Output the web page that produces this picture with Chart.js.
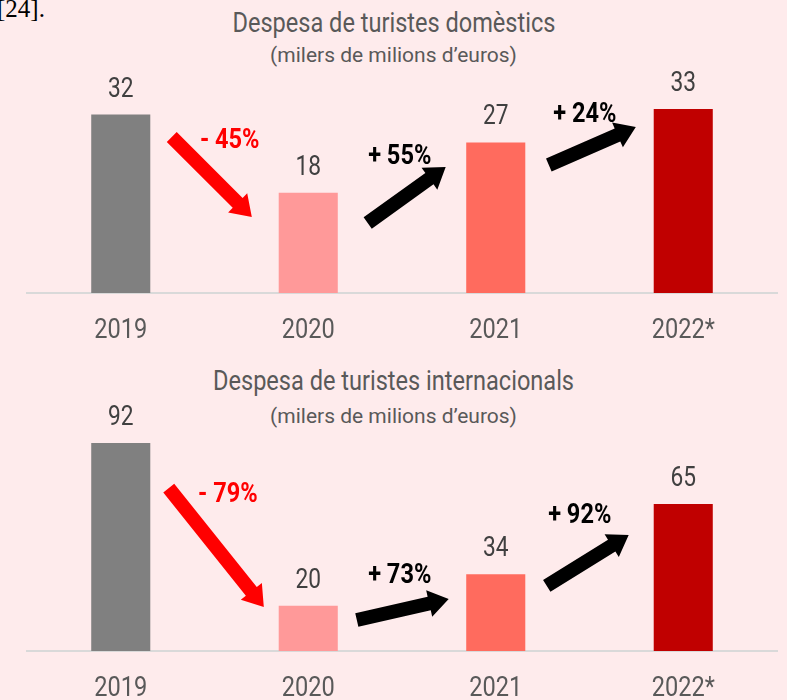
<!DOCTYPE html>
<html><head><meta charset="utf-8">
<script src="https://cdn.jsdelivr.net/npm/chart.js@4/dist/chart.umd.min.js"></script>
<style>
html,body{margin:0;padding:0;background:#FEEBEC;}
body{width:787px;height:700px;position:relative;overflow:hidden;font-family:Roboto,sans-serif;}
.ref{position:absolute;left:-3px;top:-4px;font:25px/1 "Liberation Serif",serif;color:#000;white-space:nowrap;}
.t{position:absolute;left:0;width:787px;text-align:center;color:#595959;white-space:nowrap;line-height:1;font-family:Roboto,sans-serif;}
.t span{display:inline-block;transform-origin:50% 50%;}
.t1{font-size:28px;}
.t2{font-size:21px;}
.box{position:absolute;left:0;width:787px;}
canvas{display:block;}
</style></head>
<body>
<div class="ref">[24].</div>
<div class="t t1" style="top:9px"><span class="cond">Despesa de turistes domèstics</span></div>
<div class="t t2" style="top:45px"><span>(milers de milions d’euros)</span></div>
<div class="t t1" style="top:367px"><span class="cond">Despesa de turistes internacionals</span></div>
<div class="t t2" style="top:406px"><span>(milers de milions d’euros)</span></div>
<div class="box" style="top:0;height:355px"><canvas id="c1" width="787" height="355"></canvas></div>
<div class="box" style="top:355px;height:345px"><canvas id="c2" width="787" height="345"></canvas></div>
<script>
const categories = ['2019', '2020', '2021', '2022*'];
const domesticValues = [32, 18, 27, 33];
const internationalValues = [92, 20, 34, 65];
const barColors = ['#808080', '#FF9999', '#FF6B5E', '#C00000'];

// change annotations: [xStartIndex, yStart, xEndIndex, yEnd] in data space
const domesticArrows = [[0.272, 27.98, 0.699, 13.63], [1.317, 12.56, 1.733, 22.60], [2.283, 22.96, 2.747, 29.78]];
const domesticChangeLabels = ['- 45%', '+ 55%', '+ 24%'];
const domesticLabelPos = [[0.581, 27.8], [1.488, 24.93], [2.475, 32.47]];
const internationalArrows = [[0.256, 72.1, 0.763, 19.5], [1.259, 13.7, 1.749, 23.0], [2.272, 28.8, 2.709, 51.3]];
const internationalChangeLabels = ['- 79%', '+ 73%', '+ 92%'];
const internationalLabelPos = [[0.571, 70.4], [1.488, 34.5], [2.448, 61.1]];
const arrowColors = ['#FF0000', '#000000', '#000000'];

const FONT = 'Roboto, sans-serif';

// horizontal condensing factor (Roboto -> condensed look)
const mc = document.createElement('canvas').getContext('2d');
mc.font = '28px ' + FONT;
const COND = Math.min(1, 323 / mc.measureText('Despesa de turistes domèstics').width);
document.querySelectorAll('.t span.cond').forEach(s => { s.style.transform = 'scaleX(' + COND + ')'; });

function condText(ctx, text, x, y) {
  ctx.save();
  ctx.translate(x, y);
  ctx.scale(COND, 1);
  ctx.fillText(text, 0, 0);
  ctx.restore();
}

function drawArrow(ctx, x0, y0, x1, y1, color) {
  const ang = Math.atan2(y1 - y0, x1 - x0);
  const len = Math.hypot(x1 - x0, y1 - y0);
  const sw = 7, hl = 20, hw = 13.5;
  ctx.save();
  ctx.translate(x0, y0);
  ctx.rotate(ang);
  ctx.fillStyle = color;
  ctx.beginPath();
  ctx.moveTo(0, -sw);
  ctx.lineTo(len - hl, -sw);
  ctx.lineTo(len - hl, -hw);
  ctx.lineTo(len, 0);
  ctx.lineTo(len - hl, hw);
  ctx.lineTo(len - hl, sw);
  ctx.lineTo(0, sw);
  ctx.closePath();
  ctx.fill();
  ctx.restore();
}

const annotPlugin = {
  id: 'annot',
  afterDatasetsDraw(chart, args, opts) {
    const ctx = chart.ctx;
    const xs = chart.scales.x, ys = chart.scales.y;
    const meta = chart.getDatasetMeta(0);
    ctx.save();
    ctx.textAlign = 'center';
    ctx.textBaseline = 'alphabetic';
    // value labels
    ctx.font = '27px ' + FONT;
    ctx.fillStyle = '#404040';
    meta.data.forEach((bar, i) => {
      condText(ctx, String(chart.data.datasets[0].data[i]), bar.x, bar.y - 18);
    });
    // category labels
    ctx.font = '28px ' + FONT;
    ctx.fillStyle = '#595959';
    chart.data.labels.forEach((lab, i) => {
      condText(ctx, lab, xs.getPixelForValue(i), chart.chartArea.bottom + 45);
    });
    // arrows
    opts.arrows.forEach((a, i) => {
      drawArrow(ctx, xs.getPixelForValue(a[0]), ys.getPixelForValue(a[1]),
        xs.getPixelForValue(a[2]), ys.getPixelForValue(a[3]), arrowColors[i]);
    });
    ctx.font = 'bold 28px ' + FONT;
    opts.labels.forEach((t, i) => {
      ctx.fillStyle = arrowColors[i];
      const p = opts.labelPos[i];
      condText(ctx, t, xs.getPixelForValue(p[0]), ys.getPixelForValue(p[1]) + 10);
    });
    ctx.restore();
  }
};

function makeChart(id, values, yMax, arrows, labels, labelPos, padBottom) {
  return new Chart(document.getElementById(id), {
    type: 'bar',
    data: {
      labels: categories,
      datasets: [{ data: values, backgroundColor: barColors, barPercentage: 0.315, categoryPercentage: 1 }]
    },
    options: {
      responsive: false,
      animation: false,
      layout: { padding: { left: 27, right: 10, top: 70, bottom: padBottom } },
      plugins: { legend: { display: false }, tooltip: { enabled: false }, title: { display: false },
        annot: { arrows, labels, labelPos } },
      scales: {
        x: {
          grid: { display: false, drawTicks: false },
          border: { display: true, color: '#D9D9D9', width: 2 },
          ticks: { display: false }
        },
        y: { display: false, min: 0, max: yMax }
      }
    },
    plugins: [annotPlugin]
  });
}

makeChart('c1', domesticValues, 40, domesticArrows, domesticChangeLabels, domesticLabelPos, 62);
makeChart('c2', internationalValues, 100, internationalArrows, internationalChangeLabels, internationalLabelPos, 49);
</script>
</body></html>
